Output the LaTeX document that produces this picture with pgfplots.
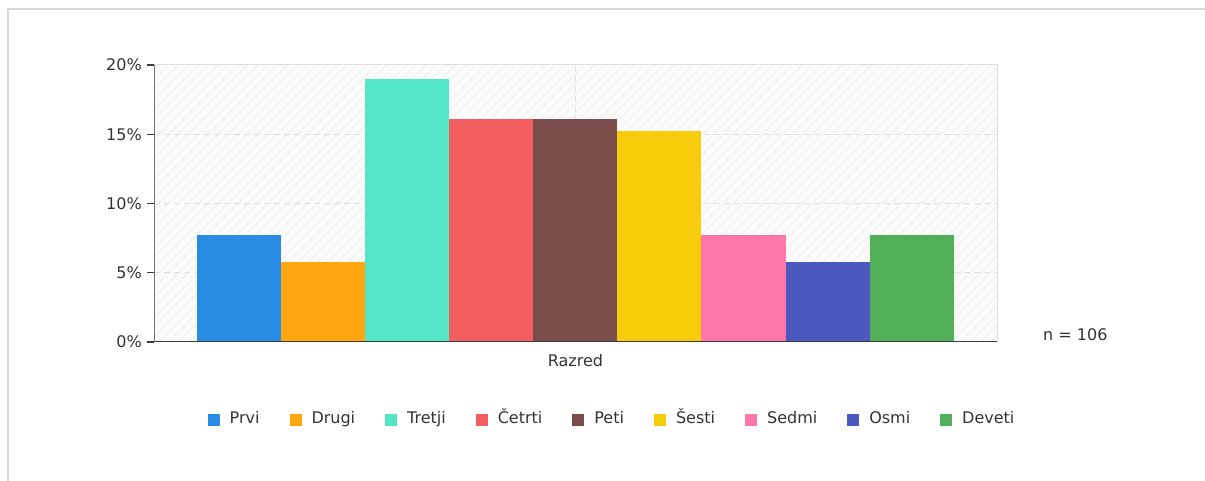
\documentclass[border=0pt]{standalone}
\usepackage{pgfplots}
\pgfplotsset{compat=1.18}
\usepackage{fontspec}
\setmainfont{DejaVu Sans}
\usetikzlibrary{patterns.meta}
\definecolor{cPrvi}{RGB}{40,139,228}
\definecolor{cDrugi}{RGB}{255,166,17}
\definecolor{cTretji}{RGB}{82,230,199}
\definecolor{cCetrti}{RGB}{242,94,93}
\definecolor{cPeti}{RGB}{122,76,74}
\definecolor{cSesti}{RGB}{247,204,11}
\definecolor{cSedmi}{RGB}{255,119,169}
\definecolor{cOsmi}{RGB}{74,89,187}
\definecolor{cDeveti}{RGB}{82,175,89}
\definecolor{txtc}{RGB}{51,51,51}
\definecolor{axisc}{RGB}{60,60,60}
\definecolor{gridc}{RGB}{224,224,224}
\definecolor{borderc}{RGB}{222,222,222}
\definecolor{framec}{RGB}{216,216,216}
\definecolor{bgc}{RGB}{251,251,251}
\definecolor{hatchc}{RGB}{240,240,240}
\pgfplotsset{
  mybar/.style={ybar, bar width=1, bar shift=0pt, draw=none, fill=#1,
    legend image code/.code={\fill[#1] (0pt,-6pt) rectangle (12pt,6pt);}},
}
\begin{document}
\fontsize{16pt}{19pt}\selectfont
\begin{tikzpicture}[x=1pt,y=1pt]
\useasboundingbox (0,0) rectangle (1205,481);
\fill[white] (0,0) rectangle (1205,481);
\draw[framec, line width=2pt] (8,0) -- (8,472) -- (1205,472);
\begin{axis}[
  at={(154.3pt,139pt)}, anchor=south west, scale only axis,
  width=843pt, height=277pt,
  xmin=-1.01, xmax=9.02, ymin=0, ymax=20,
  ytick={0,5,10,15,20},
  yticklabels={0\%,5\%,10\%,15\%,20\%},
  xtick={4}, xticklabels={Razred},
  ymajorgrids, xmajorgrids,
  grid style={color=gridc, dash pattern=on 6pt off 4pt, line width=1pt},
  axis line style={draw=borderc, line width=1pt},
  tick align=outside, major tick length=7pt, ytick pos=left,
  xtick style={draw=none},
  ytick style={draw=axisc, line width=1.2pt},
  tick label style={text=txtc, font=\fontsize{16pt}{19pt}\selectfont},
  axis background/.style={fill=bgc, postaction={pattern={Lines[angle=45, distance=7pt, line width=1pt]}, pattern color=hatchc}},
  legend style={at={(0.543,-0.28)}, anchor=center, draw=none, fill=none,
    legend columns=9, font=\fontsize{16pt}{19pt}\selectfont, text=txtc,
    nodes={text height=11pt, text depth=3pt},
    /tikz/every odd column/.append style={column sep=8pt},
    /tikz/every even column/.append style={column sep=28pt}},
]
\addplot[mybar=cPrvi] coordinates {(0,7.7)};
\addlegendentry{Prvi}
\addplot[mybar=cDrugi] coordinates {(1,5.8)};
\addlegendentry{Drugi}
\addplot[mybar=cTretji] coordinates {(2,19.0)};
\addlegendentry{Tretji}
\addplot[mybar=cCetrti] coordinates {(3,16.1)};
\addlegendentry{Četrti}
\addplot[mybar=cPeti] coordinates {(4,16.1)};
\addlegendentry{Peti}
\addplot[mybar=cSesti] coordinates {(5,15.2)};
\addlegendentry{Šesti}
\addplot[mybar=cSedmi] coordinates {(6,7.7)};
\addlegendentry{Sedmi}
\addplot[mybar=cOsmi] coordinates {(7,5.8)};
\addlegendentry{Osmi}
\addplot[mybar=cDeveti] coordinates {(8,7.7)};
\addlegendentry{Deveti}
\draw[axisc, line width=1.5pt] (rel axis cs:0,1) -- (rel axis cs:0,0) -- (rel axis cs:1,0);
\end{axis}
\node[anchor=west, text=txtc, inner sep=0pt] at (1043,146) {n = 106};
\end{tikzpicture}
\end{document}
